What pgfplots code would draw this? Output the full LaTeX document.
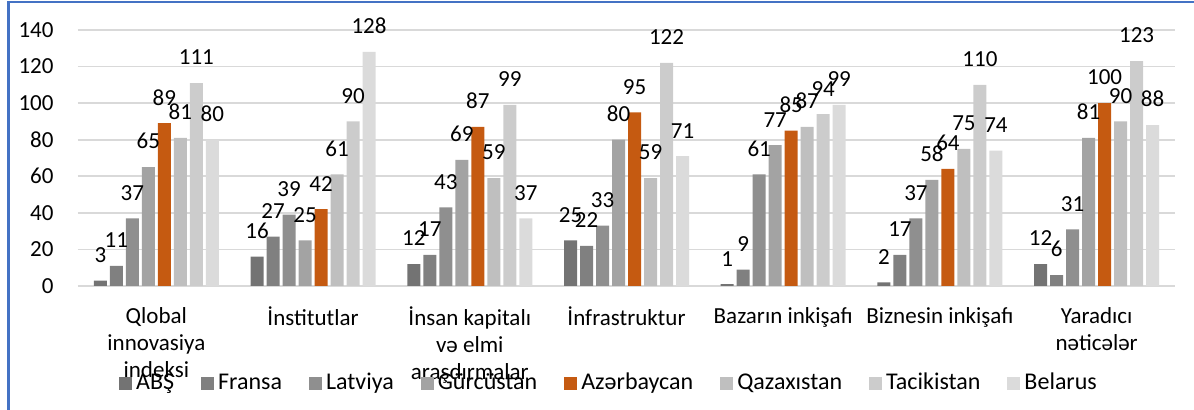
\documentclass[border=0pt]{standalone}
\usepackage{fontspec}
\setmainfont{Carlito}
\usepackage{pgfplots}
\pgfplotsset{compat=1.18}

\definecolor{cUSA}{HTML}{737373}
\definecolor{cFRA}{HTML}{808080}
\definecolor{cLVA}{HTML}{8F8F8F}
\definecolor{cGEO}{HTML}{A3A3A3}
\definecolor{cAZE}{HTML}{C55A11}
\definecolor{cKAZ}{HTML}{BFBFBF}
\definecolor{cTJK}{HTML}{CCCCCC}
\definecolor{cBLR}{HTML}{DBDBDB}
\definecolor{gridgray}{HTML}{D9D9D9}
\definecolor{frameblue}{HTML}{4472C4}

\newcommand{\lblfont}{\fontsize{11.5}{13.5}\selectfont}
\newcommand{\legfont}{\fontsize{12}{14}\selectfont}

\begin{document}
\begin{tikzpicture}
\useasboundingbox (-39pt,-62pt) rectangle (558pt,143pt);
\begin{axis}[
    at={(0,0)}, anchor=south west,
    scale only axis, width=548.5pt, height=128pt,
    ybar=1.5pt, bar width=6.5pt,
    xmin=-0.5, xmax=6.5, ymin=0, ymax=140,
    enlargelimits=false,
    xtick={0,...,6},
    xticklabels={Qlobal\\innovasiya\\indeksi, İnstitutlar, İnsan kapitalı\\və elmi\\araşdırmalar, İnfrastruktur, Bazarın inkişafı, Biznesin inkişafı, Yaradıcı\\nəticələr},
    ytick={0,20,...,140},
    axis line style={draw=none},
    major tick length=0pt,
    ymajorgrids,
    grid style={color=gridgray, line width=0.8pt},
    /pgf/number format/assume math mode=true,
    tick label style={font=\lblfont},
    yticklabel style={xshift=-8.7pt},
    xticklabel style={align=center, yshift=-7pt},
    nodes near coords,
    every node near coord/.append style={font=\lblfont, yshift=5.5pt, text=black},
    legend columns=8,
    legend style={at={(0.485,-0.379)}, anchor=center, draw=none, fill=none,
        font=\legfont,
        /tikz/every even column/.append style={column sep=11.5pt}},
    legend image code/.code={\fill[#1,draw=none] (0pt,-3.25pt) rectangle (6.5pt,3.25pt);},
]
\addplot[fill=cUSA, draw=none] coordinates {(0,3) (1,16) (2,12) (3,25) (4,1) (5,2) (6,12)};
\addplot[fill=cFRA, draw=none] coordinates {(0,11) (1,27) (2,17) (3,22) (4,9) (5,17) (6,6)};
\addplot[fill=cLVA, draw=none] coordinates {(0,37) (1,39) (2,43) (3,33) (4,61) (5,37) (6,31)};
\addplot[fill=cGEO, draw=none] coordinates {(0,65) (1,25) (2,69) (3,80) (4,77) (5,58) (6,81)};
\addplot[fill=cAZE, draw=none] coordinates {(0,89) (1,42) (2,87) (3,95) (4,85) (5,64) (6,100)};
\addplot[fill=cKAZ, draw=none] coordinates {(0,81) (1,61) (2,59) (3,59) (4,87) (5,75) (6,90)};
\addplot[fill=cTJK, draw=none] coordinates {(0,111) (1,90) (2,99) (3,122) (4,94) (5,110) (6,123)};
\addplot[fill=cBLR, draw=none] coordinates {(0,80) (1,128) (2,37) (3,71) (4,99) (5,74) (6,88)};
\legend{ABŞ, Fransa, Latviya, Gürcüstan, Azərbaycan, Qazaxıstan, Tacikistan, Belarus}
\end{axis}
\draw[frameblue, line width=1.2pt] (-34.75pt,-62pt) -- (-34.75pt,142pt) -- (558pt,142pt);
\end{tikzpicture}
\end{document}
